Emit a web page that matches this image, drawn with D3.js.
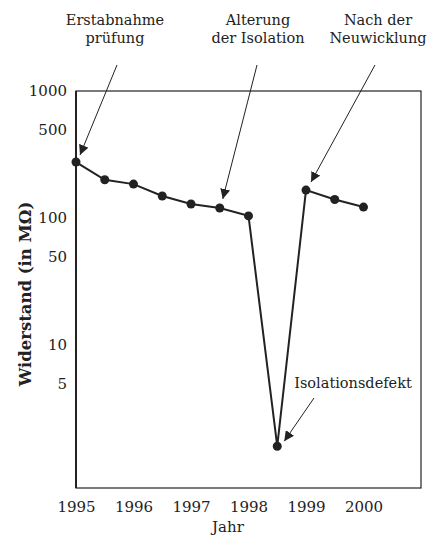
<!DOCTYPE html>
<html>
<head>
<meta charset="utf-8">
<script src="https://cdn.jsdelivr.net/npm/d3@7"></script>
<style>
  body { margin: 0; background: #fff; }
  text { font-family: "DejaVu Serif", serif; fill: #222; }
</style>
</head>
<body>
<div class="container"></div>
<script>
const years = [1995, 1995.5, 1996, 1996.5, 1997, 1997.5, 1998, 1998.5, 1999, 1999.5, 2000];
const resistance = [276, 200, 185, 149, 129, 120, 104, 1.6, 166, 140, 122];
const xTicks = [1995, 1996, 1997, 1998, 1999, 2000];
const yTicks = [1000, 500, 100, 50, 10, 5];

const width = 432;
const height = 537;
const margin = {top: 91, right: 11, bottom: 49, left: 76};

const svg = d3.select('.container')
    .append('svg')
    .attr('width', width)
    .attr('height', height);

const x = d3.scaleLinear()
    .domain([1995, 2001])
    .range([margin.left, width - margin.right]);

const y = d3.scaleLog()
    .domain([0.75, 1000])
    .range([height - margin.bottom, margin.top]);

// frame
svg.append('rect')
    .attr('x', margin.left)
    .attr('y', margin.top)
    .attr('width', width - margin.left - margin.right)
    .attr('height', height - margin.top - margin.bottom)
    .attr('fill', 'none')
    .attr('stroke', '#222')
    .attr('stroke-width', 1.2);

svg.append('line')
    .attr('x1', margin.left).attr('x2', margin.left)
    .attr('y1', margin.top).attr('y2', height - margin.bottom)
    .attr('stroke', '#222')
    .attr('stroke-width', 2);

// axes without tick marks
const xAxis = svg.append('g')
    .attr('transform', `translate(0,${height - margin.bottom})`)
    .call(d3.axisBottom(x).tickValues(xTicks).tickFormat(d3.format('d')).tickSize(0).tickPadding(13));
xAxis.select('.domain').remove();
xAxis.selectAll('text').attr('font-size', 15).attr('font-family', '"DejaVu Serif", serif').attr('fill', '#222');

const yAxis = svg.append('g')
    .attr('transform', `translate(${margin.left},0)`)
    .call(d3.axisLeft(y).tickValues(yTicks).tickFormat(d3.format('d')).tickSize(0).tickPadding(9));
yAxis.select('.domain').remove();
yAxis.selectAll('text').attr('font-size', 15).attr('font-family', '"DejaVu Serif", serif').attr('fill', '#222');

// axis titles
svg.append('text')
    .attr('x', 228)
    .attr('y', 532)
    .attr('text-anchor', 'middle')
    .attr('font-size', 15)
    .text('Jahr');

svg.append('text')
    .attr('transform', 'translate(31,294) rotate(-90)')
    .attr('text-anchor', 'middle')
    .attr('font-size', 16.5)
    .attr('font-weight', 'bold')
    .text('Widerstand (in MΩ)');

// arrow marker
svg.append('defs').append('marker')
    .attr('id', 'arrow')
    .attr('viewBox', '0 0 10 10')
    .attr('refX', 10).attr('refY', 5)
    .attr('markerWidth', 10).attr('markerHeight', 10)
    .attr('markerUnits', 'userSpaceOnUse')
    .attr('orient', 'auto')
    .append('path')
    .attr('d', 'M0,0 L10,5 L0,10 Z')
    .attr('fill', '#222');

// data line + points
const data = years.map((d, i) => ({year: d, value: resistance[i]}));

svg.append('path')
    .datum(data)
    .attr('fill', 'none')
    .attr('stroke', '#222')
    .attr('stroke-width', 2)
    .attr('d', d3.line().x(d => x(d.year)).y(d => y(d.value)));

svg.append('g')
    .selectAll('circle')
    .data(data)
    .enter()
    .append('circle')
    .attr('cx', d => x(d.year))
    .attr('cy', d => y(d.value))
    .attr('r', 4.5)
    .attr('fill', '#222');

// annotations: text lines, arrow start, target point index, tip offset
const notes = [
    {lines: ['Erstabnahme', 'prüfung'], tx: 115, ty: 25, x1: 117, y1: 65, idx: 0, dx: 4, dy: -7},
    {lines: ['Alterung', 'der Isolation'], tx: 258, ty: 25, x1: 257, y1: 65, idx: 5, dx: 3, dy: -9},
    {lines: ['Nach der', 'Neuwicklung'], tx: 378, ty: 25, x1: 375, y1: 65, idx: 8, dx: 5, dy: -8},
    {lines: ['Isolationsdefekt'], tx: 353, ty: 388, x1: 314, y1: 398, idx: 7, dx: 7, dy: -5}
];

notes.forEach(n => {
    const t = svg.append('text')
        .attr('text-anchor', 'middle')
        .attr('font-size', 14.5);
    n.lines.forEach((l, i) => {
        t.append('tspan')
            .attr('x', n.tx)
            .attr('y', n.ty + i * 18)
            .text(l);
    });
    svg.append('line')
        .attr('x1', n.x1).attr('y1', n.y1)
        .attr('x2', x(years[n.idx]) + n.dx)
        .attr('y2', y(resistance[n.idx]) + n.dy)
        .attr('stroke', '#222')
        .attr('stroke-width', 1)
        .attr('marker-end', 'url(#arrow)');
});
</script>
</body>
</html>
